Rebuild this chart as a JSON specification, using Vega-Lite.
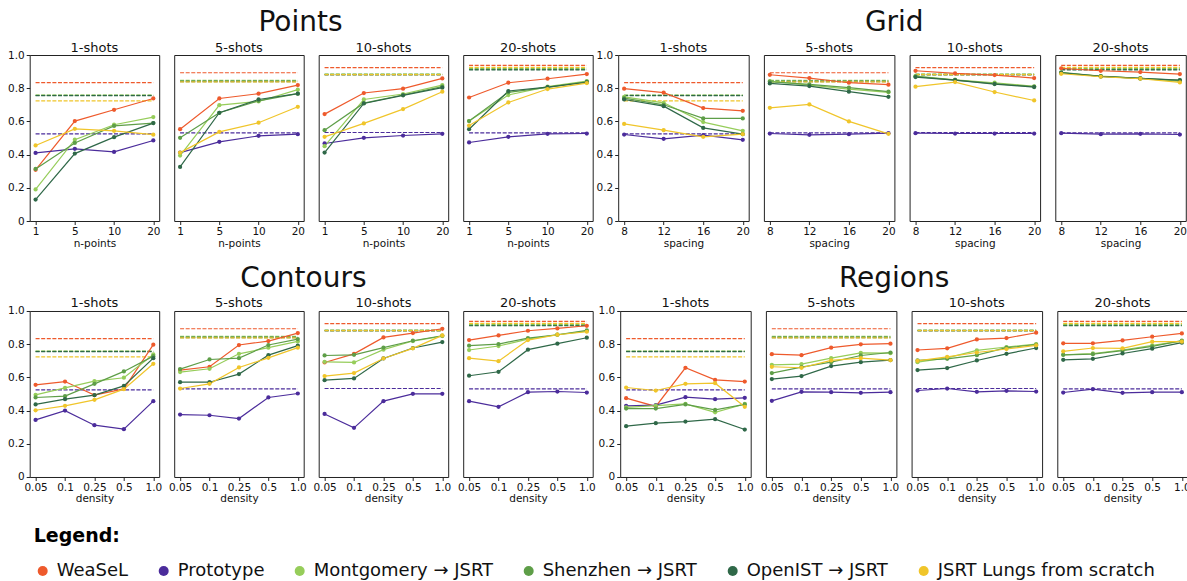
{
  "$schema": "https://vega.github.io/schema/vega-lite/v6.json",
  "background": "white",
  "padding": {"left": 6.7, "top": 9, "right": 0, "bottom": 0},
  "config": {
    "font": "DejaVu Sans",
    "view": {"stroke": "#222", "strokeWidth": 1},
    "axis": {"grid": false, "domain": false, "tickColor": "#222", "tickSize": 3.5, "labelFontSize": 10.5, "labelColor": "#111", "titleFontSize": 10.5, "titleFontWeight": "normal", "titleColor": "#111", "labelPadding": 2, "titlePadding": 1, "labelOverlap": false},
    "axisX": {"labelAlign": "center", "labelAngle": 0},
    "axisY": {"labelOverlap": false, "labelBound": false, "labelFlush": false, "labelSeparation": 0},
    "header": {"labelFontSize": 13, "labelColor": "#111", "labelPadding": 0.5},
    "title": {"fontSize": 28, "fontWeight": "normal", "color": "#111", "offset": 4.5, "anchor": "middle"}
  },
  "datasets": {
    "runs": [
      {"group":"all","shots":"1-shots","series":"WeaSeL","value":0.833},
      {"group":"all","shots":"1-shots","series":"Prototype","value":0.525},
      {"group":"all","shots":"1-shots","series":"Montgomery → JSRT","value":0.758},
      {"group":"all","shots":"1-shots","series":"Shenzhen → JSRT","value":0.757},
      {"group":"all","shots":"1-shots","series":"OpenIST → JSRT","value":0.755},
      {"group":"all","shots":"1-shots","series":"JSRT Lungs from scratch","value":0.724},
      {"group":"all","shots":"5-shots","series":"WeaSeL","value":0.893},
      {"group":"all","shots":"5-shots","series":"Prototype","value":0.531},
      {"group":"all","shots":"5-shots","series":"Montgomery → JSRT","value":0.848},
      {"group":"all","shots":"5-shots","series":"Shenzhen → JSRT","value":0.844},
      {"group":"all","shots":"5-shots","series":"OpenIST → JSRT","value":0.839},
      {"group":"all","shots":"5-shots","series":"JSRT Lungs from scratch","value":0.838},
      {"group":"all","shots":"10-shots","series":"WeaSeL","value":0.924},
      {"group":"all","shots":"10-shots","series":"Prototype","value":0.533},
      {"group":"all","shots":"10-shots","series":"Montgomery → JSRT","value":0.885},
      {"group":"all","shots":"10-shots","series":"Shenzhen → JSRT","value":0.883},
      {"group":"all","shots":"10-shots","series":"OpenIST → JSRT","value":0.880},
      {"group":"all","shots":"10-shots","series":"JSRT Lungs from scratch","value":0.882},
      {"group":"all","shots":"20-shots","series":"WeaSeL","value":0.938},
      {"group":"all","shots":"20-shots","series":"Prototype","value":0.531},
      {"group":"all","shots":"20-shots","series":"Montgomery → JSRT","value":0.920},
      {"group":"all","shots":"20-shots","series":"Shenzhen → JSRT","value":0.913},
      {"group":"all","shots":"20-shots","series":"OpenIST → JSRT","value":0.911},
      {"group":"all","shots":"20-shots","series":"JSRT Lungs from scratch","value":0.926},

      {"group":"Points","shots":"1-shots","x":"1","series":"WeaSeL","value":0.308},
      {"group":"Points","shots":"1-shots","x":"5","series":"WeaSeL","value":0.602},
      {"group":"Points","shots":"1-shots","x":"10","series":"WeaSeL","value":0.670},
      {"group":"Points","shots":"1-shots","x":"20","series":"WeaSeL","value":0.738},
      {"group":"Points","shots":"1-shots","x":"1","series":"Prototype","value":0.410},
      {"group":"Points","shots":"1-shots","x":"5","series":"Prototype","value":0.435},
      {"group":"Points","shots":"1-shots","x":"10","series":"Prototype","value":0.416},
      {"group":"Points","shots":"1-shots","x":"20","series":"Prototype","value":0.485},
      {"group":"Points","shots":"1-shots","x":"1","series":"Montgomery → JSRT","value":0.190},
      {"group":"Points","shots":"1-shots","x":"5","series":"Montgomery → JSRT","value":0.490},
      {"group":"Points","shots":"1-shots","x":"10","series":"Montgomery → JSRT","value":0.580},
      {"group":"Points","shots":"1-shots","x":"20","series":"Montgomery → JSRT","value":0.626},
      {"group":"Points","shots":"1-shots","x":"1","series":"Shenzhen → JSRT","value":0.314},
      {"group":"Points","shots":"1-shots","x":"5","series":"Shenzhen → JSRT","value":0.470},
      {"group":"Points","shots":"1-shots","x":"10","series":"Shenzhen → JSRT","value":0.573},
      {"group":"Points","shots":"1-shots","x":"20","series":"Shenzhen → JSRT","value":0.590},
      {"group":"Points","shots":"1-shots","x":"1","series":"OpenIST → JSRT","value":0.129},
      {"group":"Points","shots":"1-shots","x":"5","series":"OpenIST → JSRT","value":0.406},
      {"group":"Points","shots":"1-shots","x":"10","series":"OpenIST → JSRT","value":0.505},
      {"group":"Points","shots":"1-shots","x":"20","series":"OpenIST → JSRT","value":0.590},
      {"group":"Points","shots":"1-shots","x":"1","series":"JSRT Lungs from scratch","value":0.455},
      {"group":"Points","shots":"1-shots","x":"5","series":"JSRT Lungs from scratch","value":0.555},
      {"group":"Points","shots":"1-shots","x":"10","series":"JSRT Lungs from scratch","value":0.543},
      {"group":"Points","shots":"1-shots","x":"20","series":"JSRT Lungs from scratch","value":0.520},

      {"group":"Points","shots":"5-shots","x":"1","series":"WeaSeL","value":0.553},
      {"group":"Points","shots":"5-shots","x":"5","series":"WeaSeL","value":0.738},
      {"group":"Points","shots":"5-shots","x":"10","series":"WeaSeL","value":0.767},
      {"group":"Points","shots":"5-shots","x":"20","series":"WeaSeL","value":0.819},
      {"group":"Points","shots":"5-shots","x":"1","series":"Prototype","value":0.412},
      {"group":"Points","shots":"5-shots","x":"5","series":"Prototype","value":0.477},
      {"group":"Points","shots":"5-shots","x":"10","series":"Prototype","value":0.513},
      {"group":"Points","shots":"5-shots","x":"20","series":"Prototype","value":0.523},
      {"group":"Points","shots":"5-shots","x":"1","series":"Montgomery → JSRT","value":0.394},
      {"group":"Points","shots":"5-shots","x":"5","series":"Montgomery → JSRT","value":0.698},
      {"group":"Points","shots":"5-shots","x":"10","series":"Montgomery → JSRT","value":0.720},
      {"group":"Points","shots":"5-shots","x":"20","series":"Montgomery → JSRT","value":0.791},
      {"group":"Points","shots":"5-shots","x":"1","series":"Shenzhen → JSRT","value":0.501},
      {"group":"Points","shots":"5-shots","x":"5","series":"Shenzhen → JSRT","value":0.652},
      {"group":"Points","shots":"5-shots","x":"10","series":"Shenzhen → JSRT","value":0.724},
      {"group":"Points","shots":"5-shots","x":"20","series":"Shenzhen → JSRT","value":0.767},
      {"group":"Points","shots":"5-shots","x":"1","series":"OpenIST → JSRT","value":0.326},
      {"group":"Points","shots":"5-shots","x":"5","series":"OpenIST → JSRT","value":0.652},
      {"group":"Points","shots":"5-shots","x":"10","series":"OpenIST → JSRT","value":0.732},
      {"group":"Points","shots":"5-shots","x":"20","series":"OpenIST → JSRT","value":0.767},
      {"group":"Points","shots":"5-shots","x":"1","series":"JSRT Lungs from scratch","value":0.412},
      {"group":"Points","shots":"5-shots","x":"5","series":"JSRT Lungs from scratch","value":0.537},
      {"group":"Points","shots":"5-shots","x":"10","series":"JSRT Lungs from scratch","value":0.592},
      {"group":"Points","shots":"5-shots","x":"20","series":"JSRT Lungs from scratch","value":0.688},

      {"group":"Points","shots":"10-shots","x":"1","series":"WeaSeL","value":0.644},
      {"group":"Points","shots":"10-shots","x":"5","series":"WeaSeL","value":0.771},
      {"group":"Points","shots":"10-shots","x":"10","series":"WeaSeL","value":0.797},
      {"group":"Points","shots":"10-shots","x":"20","series":"WeaSeL","value":0.859},
      {"group":"Points","shots":"10-shots","x":"1","series":"Prototype","value":0.467},
      {"group":"Points","shots":"10-shots","x":"5","series":"Prototype","value":0.501},
      {"group":"Points","shots":"10-shots","x":"10","series":"Prototype","value":0.515},
      {"group":"Points","shots":"10-shots","x":"20","series":"Prototype","value":0.525},
      {"group":"Points","shots":"10-shots","x":"1","series":"Montgomery → JSRT","value":0.451},
      {"group":"Points","shots":"10-shots","x":"5","series":"Montgomery → JSRT","value":0.732},
      {"group":"Points","shots":"10-shots","x":"10","series":"Montgomery → JSRT","value":0.765},
      {"group":"Points","shots":"10-shots","x":"20","series":"Montgomery → JSRT","value":0.819},
      {"group":"Points","shots":"10-shots","x":"1","series":"Shenzhen → JSRT","value":0.547},
      {"group":"Points","shots":"10-shots","x":"5","series":"Shenzhen → JSRT","value":0.710},
      {"group":"Points","shots":"10-shots","x":"10","series":"Shenzhen → JSRT","value":0.759},
      {"group":"Points","shots":"10-shots","x":"20","series":"Shenzhen → JSRT","value":0.809},
      {"group":"Points","shots":"10-shots","x":"1","series":"OpenIST → JSRT","value":0.412},
      {"group":"Points","shots":"10-shots","x":"5","series":"OpenIST → JSRT","value":0.708},
      {"group":"Points","shots":"10-shots","x":"10","series":"OpenIST → JSRT","value":0.757},
      {"group":"Points","shots":"10-shots","x":"20","series":"OpenIST → JSRT","value":0.803},
      {"group":"Points","shots":"10-shots","x":"1","series":"JSRT Lungs from scratch","value":0.507},
      {"group":"Points","shots":"10-shots","x":"5","series":"JSRT Lungs from scratch","value":0.588},
      {"group":"Points","shots":"10-shots","x":"10","series":"JSRT Lungs from scratch","value":0.674},
      {"group":"Points","shots":"10-shots","x":"20","series":"JSRT Lungs from scratch","value":0.779},

      {"group":"Points","shots":"20-shots","x":"1","series":"WeaSeL","value":0.744},
      {"group":"Points","shots":"20-shots","x":"5","series":"WeaSeL","value":0.833},
      {"group":"Points","shots":"20-shots","x":"10","series":"WeaSeL","value":0.857},
      {"group":"Points","shots":"20-shots","x":"20","series":"WeaSeL","value":0.885},
      {"group":"Points","shots":"20-shots","x":"1","series":"Prototype","value":0.473},
      {"group":"Points","shots":"20-shots","x":"5","series":"Prototype","value":0.507},
      {"group":"Points","shots":"20-shots","x":"10","series":"Prototype","value":0.525},
      {"group":"Points","shots":"20-shots","x":"20","series":"Prototype","value":0.527},
      {"group":"Points","shots":"20-shots","x":"1","series":"Montgomery → JSRT","value":0.602},
      {"group":"Points","shots":"20-shots","x":"5","series":"Montgomery → JSRT","value":0.759},
      {"group":"Points","shots":"20-shots","x":"10","series":"Montgomery → JSRT","value":0.809},
      {"group":"Points","shots":"20-shots","x":"20","series":"Montgomery → JSRT","value":0.843},
      {"group":"Points","shots":"20-shots","x":"1","series":"Shenzhen → JSRT","value":0.602},
      {"group":"Points","shots":"20-shots","x":"5","series":"Shenzhen → JSRT","value":0.775},
      {"group":"Points","shots":"20-shots","x":"10","series":"Shenzhen → JSRT","value":0.805},
      {"group":"Points","shots":"20-shots","x":"20","series":"Shenzhen → JSRT","value":0.839},
      {"group":"Points","shots":"20-shots","x":"1","series":"OpenIST → JSRT","value":0.553},
      {"group":"Points","shots":"20-shots","x":"5","series":"OpenIST → JSRT","value":0.783},
      {"group":"Points","shots":"20-shots","x":"10","series":"OpenIST → JSRT","value":0.807},
      {"group":"Points","shots":"20-shots","x":"20","series":"OpenIST → JSRT","value":0.835},
      {"group":"Points","shots":"20-shots","x":"1","series":"JSRT Lungs from scratch","value":0.575},
      {"group":"Points","shots":"20-shots","x":"5","series":"JSRT Lungs from scratch","value":0.714},
      {"group":"Points","shots":"20-shots","x":"10","series":"JSRT Lungs from scratch","value":0.795},
      {"group":"Points","shots":"20-shots","x":"20","series":"JSRT Lungs from scratch","value":0.831},

      {"group":"Grid","shots":"1-shots","x":"8","series":"WeaSeL","value":0.797},
      {"group":"Grid","shots":"1-shots","x":"12","series":"WeaSeL","value":0.773},
      {"group":"Grid","shots":"1-shots","x":"16","series":"WeaSeL","value":0.680},
      {"group":"Grid","shots":"1-shots","x":"20","series":"WeaSeL","value":0.664},
      {"group":"Grid","shots":"1-shots","x":"8","series":"Prototype","value":0.521},
      {"group":"Grid","shots":"1-shots","x":"12","series":"Prototype","value":0.495},
      {"group":"Grid","shots":"1-shots","x":"16","series":"Prototype","value":0.517},
      {"group":"Grid","shots":"1-shots","x":"20","series":"Prototype","value":0.489},
      {"group":"Grid","shots":"1-shots","x":"8","series":"Montgomery → JSRT","value":0.748},
      {"group":"Grid","shots":"1-shots","x":"12","series":"Montgomery → JSRT","value":0.712},
      {"group":"Grid","shots":"1-shots","x":"16","series":"Montgomery → JSRT","value":0.596},
      {"group":"Grid","shots":"1-shots","x":"20","series":"Montgomery → JSRT","value":0.543},
      {"group":"Grid","shots":"1-shots","x":"8","series":"Shenzhen → JSRT","value":0.740},
      {"group":"Grid","shots":"1-shots","x":"12","series":"Shenzhen → JSRT","value":0.700},
      {"group":"Grid","shots":"1-shots","x":"16","series":"Shenzhen → JSRT","value":0.618},
      {"group":"Grid","shots":"1-shots","x":"20","series":"Shenzhen → JSRT","value":0.618},
      {"group":"Grid","shots":"1-shots","x":"8","series":"OpenIST → JSRT","value":0.732},
      {"group":"Grid","shots":"1-shots","x":"12","series":"OpenIST → JSRT","value":0.692},
      {"group":"Grid","shots":"1-shots","x":"16","series":"OpenIST → JSRT","value":0.561},
      {"group":"Grid","shots":"1-shots","x":"20","series":"OpenIST → JSRT","value":0.523},
      {"group":"Grid","shots":"1-shots","x":"8","series":"JSRT Lungs from scratch","value":0.585},
      {"group":"Grid","shots":"1-shots","x":"12","series":"JSRT Lungs from scratch","value":0.547},
      {"group":"Grid","shots":"1-shots","x":"16","series":"JSRT Lungs from scratch","value":0.507},
      {"group":"Grid","shots":"1-shots","x":"20","series":"JSRT Lungs from scratch","value":0.523},

      {"group":"Grid","shots":"5-shots","x":"8","series":"WeaSeL","value":0.881},
      {"group":"Grid","shots":"5-shots","x":"12","series":"WeaSeL","value":0.861},
      {"group":"Grid","shots":"5-shots","x":"16","series":"WeaSeL","value":0.833},
      {"group":"Grid","shots":"5-shots","x":"20","series":"WeaSeL","value":0.821},
      {"group":"Grid","shots":"5-shots","x":"8","series":"Prototype","value":0.527},
      {"group":"Grid","shots":"5-shots","x":"12","series":"Prototype","value":0.519},
      {"group":"Grid","shots":"5-shots","x":"16","series":"Prototype","value":0.523},
      {"group":"Grid","shots":"5-shots","x":"20","series":"Prototype","value":0.529},
      {"group":"Grid","shots":"5-shots","x":"8","series":"Montgomery → JSRT","value":0.843},
      {"group":"Grid","shots":"5-shots","x":"12","series":"Montgomery → JSRT","value":0.819},
      {"group":"Grid","shots":"5-shots","x":"16","series":"Montgomery → JSRT","value":0.795},
      {"group":"Grid","shots":"5-shots","x":"20","series":"Montgomery → JSRT","value":0.775},
      {"group":"Grid","shots":"5-shots","x":"8","series":"Shenzhen → JSRT","value":0.839},
      {"group":"Grid","shots":"5-shots","x":"12","series":"Shenzhen → JSRT","value":0.823},
      {"group":"Grid","shots":"5-shots","x":"16","series":"Shenzhen → JSRT","value":0.803},
      {"group":"Grid","shots":"5-shots","x":"20","series":"Shenzhen → JSRT","value":0.779},
      {"group":"Grid","shots":"5-shots","x":"8","series":"OpenIST → JSRT","value":0.829},
      {"group":"Grid","shots":"5-shots","x":"12","series":"OpenIST → JSRT","value":0.813},
      {"group":"Grid","shots":"5-shots","x":"16","series":"OpenIST → JSRT","value":0.779},
      {"group":"Grid","shots":"5-shots","x":"20","series":"OpenIST → JSRT","value":0.748},
      {"group":"Grid","shots":"5-shots","x":"8","series":"JSRT Lungs from scratch","value":0.682},
      {"group":"Grid","shots":"5-shots","x":"12","series":"JSRT Lungs from scratch","value":0.702},
      {"group":"Grid","shots":"5-shots","x":"16","series":"JSRT Lungs from scratch","value":0.600},
      {"group":"Grid","shots":"5-shots","x":"20","series":"JSRT Lungs from scratch","value":0.525},

      {"group":"Grid","shots":"10-shots","x":"8","series":"WeaSeL","value":0.905},
      {"group":"Grid","shots":"10-shots","x":"12","series":"WeaSeL","value":0.889},
      {"group":"Grid","shots":"10-shots","x":"16","series":"WeaSeL","value":0.879},
      {"group":"Grid","shots":"10-shots","x":"20","series":"WeaSeL","value":0.861},
      {"group":"Grid","shots":"10-shots","x":"8","series":"Prototype","value":0.529},
      {"group":"Grid","shots":"10-shots","x":"12","series":"Prototype","value":0.527},
      {"group":"Grid","shots":"10-shots","x":"16","series":"Prototype","value":0.527},
      {"group":"Grid","shots":"10-shots","x":"20","series":"Prototype","value":0.527},
      {"group":"Grid","shots":"10-shots","x":"8","series":"Montgomery → JSRT","value":0.873},
      {"group":"Grid","shots":"10-shots","x":"12","series":"Montgomery → JSRT","value":0.851},
      {"group":"Grid","shots":"10-shots","x":"16","series":"Montgomery → JSRT","value":0.833},
      {"group":"Grid","shots":"10-shots","x":"20","series":"Montgomery → JSRT","value":0.811},
      {"group":"Grid","shots":"10-shots","x":"8","series":"Shenzhen → JSRT","value":0.871},
      {"group":"Grid","shots":"10-shots","x":"12","series":"Shenzhen → JSRT","value":0.849},
      {"group":"Grid","shots":"10-shots","x":"16","series":"Shenzhen → JSRT","value":0.827},
      {"group":"Grid","shots":"10-shots","x":"20","series":"Shenzhen → JSRT","value":0.809},
      {"group":"Grid","shots":"10-shots","x":"8","series":"OpenIST → JSRT","value":0.867},
      {"group":"Grid","shots":"10-shots","x":"12","series":"OpenIST → JSRT","value":0.849},
      {"group":"Grid","shots":"10-shots","x":"16","series":"OpenIST → JSRT","value":0.825},
      {"group":"Grid","shots":"10-shots","x":"20","series":"OpenIST → JSRT","value":0.807},
      {"group":"Grid","shots":"10-shots","x":"8","series":"JSRT Lungs from scratch","value":0.809},
      {"group":"Grid","shots":"10-shots","x":"12","series":"JSRT Lungs from scratch","value":0.837},
      {"group":"Grid","shots":"10-shots","x":"16","series":"JSRT Lungs from scratch","value":0.777},
      {"group":"Grid","shots":"10-shots","x":"20","series":"JSRT Lungs from scratch","value":0.726},

      {"group":"Grid","shots":"20-shots","x":"8","series":"WeaSeL","value":0.920},
      {"group":"Grid","shots":"20-shots","x":"12","series":"WeaSeL","value":0.905},
      {"group":"Grid","shots":"20-shots","x":"16","series":"WeaSeL","value":0.897},
      {"group":"Grid","shots":"20-shots","x":"20","series":"WeaSeL","value":0.885},
      {"group":"Grid","shots":"20-shots","x":"8","series":"Prototype","value":0.529},
      {"group":"Grid","shots":"20-shots","x":"12","series":"Prototype","value":0.523},
      {"group":"Grid","shots":"20-shots","x":"16","series":"Prototype","value":0.525},
      {"group":"Grid","shots":"20-shots","x":"20","series":"Prototype","value":0.521},
      {"group":"Grid","shots":"20-shots","x":"8","series":"Montgomery → JSRT","value":0.893},
      {"group":"Grid","shots":"20-shots","x":"12","series":"Montgomery → JSRT","value":0.873},
      {"group":"Grid","shots":"20-shots","x":"16","series":"Montgomery → JSRT","value":0.859},
      {"group":"Grid","shots":"20-shots","x":"20","series":"Montgomery → JSRT","value":0.841},
      {"group":"Grid","shots":"20-shots","x":"8","series":"Shenzhen → JSRT","value":0.895},
      {"group":"Grid","shots":"20-shots","x":"12","series":"Shenzhen → JSRT","value":0.871},
      {"group":"Grid","shots":"20-shots","x":"16","series":"Shenzhen → JSRT","value":0.859},
      {"group":"Grid","shots":"20-shots","x":"20","series":"Shenzhen → JSRT","value":0.847},
      {"group":"Grid","shots":"20-shots","x":"8","series":"OpenIST → JSRT","value":0.893},
      {"group":"Grid","shots":"20-shots","x":"12","series":"OpenIST → JSRT","value":0.871},
      {"group":"Grid","shots":"20-shots","x":"16","series":"OpenIST → JSRT","value":0.859},
      {"group":"Grid","shots":"20-shots","x":"20","series":"OpenIST → JSRT","value":0.849},
      {"group":"Grid","shots":"20-shots","x":"8","series":"JSRT Lungs from scratch","value":0.887},
      {"group":"Grid","shots":"20-shots","x":"12","series":"JSRT Lungs from scratch","value":0.869},
      {"group":"Grid","shots":"20-shots","x":"16","series":"JSRT Lungs from scratch","value":0.857},
      {"group":"Grid","shots":"20-shots","x":"20","series":"JSRT Lungs from scratch","value":0.835},

      {"group":"Contours","shots":"1-shots","x":"0.05","series":"WeaSeL","value":0.555},
      {"group":"Contours","shots":"1-shots","x":"0.1","series":"WeaSeL","value":0.575},
      {"group":"Contours","shots":"1-shots","x":"0.25","series":"WeaSeL","value":0.493},
      {"group":"Contours","shots":"1-shots","x":"0.5","series":"WeaSeL","value":0.531},
      {"group":"Contours","shots":"1-shots","x":"1.0","series":"WeaSeL","value":0.797},
      {"group":"Contours","shots":"1-shots","x":"0.05","series":"Prototype","value":0.344},
      {"group":"Contours","shots":"1-shots","x":"0.1","series":"Prototype","value":0.400},
      {"group":"Contours","shots":"1-shots","x":"0.25","series":"Prototype","value":0.312},
      {"group":"Contours","shots":"1-shots","x":"0.5","series":"Prototype","value":0.288},
      {"group":"Contours","shots":"1-shots","x":"1.0","series":"Prototype","value":0.457},
      {"group":"Contours","shots":"1-shots","x":"0.05","series":"Montgomery → JSRT","value":0.495},
      {"group":"Contours","shots":"1-shots","x":"0.1","series":"Montgomery → JSRT","value":0.537},
      {"group":"Contours","shots":"1-shots","x":"0.25","series":"Montgomery → JSRT","value":0.577},
      {"group":"Contours","shots":"1-shots","x":"0.5","series":"Montgomery → JSRT","value":0.598},
      {"group":"Contours","shots":"1-shots","x":"1.0","series":"Montgomery → JSRT","value":0.738},
      {"group":"Contours","shots":"1-shots","x":"0.05","series":"Shenzhen → JSRT","value":0.479},
      {"group":"Contours","shots":"1-shots","x":"0.1","series":"Shenzhen → JSRT","value":0.487},
      {"group":"Contours","shots":"1-shots","x":"0.25","series":"Shenzhen → JSRT","value":0.561},
      {"group":"Contours","shots":"1-shots","x":"0.5","series":"Shenzhen → JSRT","value":0.636},
      {"group":"Contours","shots":"1-shots","x":"1.0","series":"Shenzhen → JSRT","value":0.728},
      {"group":"Contours","shots":"1-shots","x":"0.05","series":"OpenIST → JSRT","value":0.437},
      {"group":"Contours","shots":"1-shots","x":"0.1","series":"OpenIST → JSRT","value":0.469},
      {"group":"Contours","shots":"1-shots","x":"0.25","series":"OpenIST → JSRT","value":0.493},
      {"group":"Contours","shots":"1-shots","x":"0.5","series":"OpenIST → JSRT","value":0.549},
      {"group":"Contours","shots":"1-shots","x":"1.0","series":"OpenIST → JSRT","value":0.716},
      {"group":"Contours","shots":"1-shots","x":"0.05","series":"JSRT Lungs from scratch","value":0.402},
      {"group":"Contours","shots":"1-shots","x":"0.1","series":"JSRT Lungs from scratch","value":0.429},
      {"group":"Contours","shots":"1-shots","x":"0.25","series":"JSRT Lungs from scratch","value":0.465},
      {"group":"Contours","shots":"1-shots","x":"0.5","series":"JSRT Lungs from scratch","value":0.529},
      {"group":"Contours","shots":"1-shots","x":"1.0","series":"JSRT Lungs from scratch","value":0.682},

      {"group":"Contours","shots":"5-shots","x":"0.05","series":"WeaSeL","value":0.644},
      {"group":"Contours","shots":"5-shots","x":"0.1","series":"WeaSeL","value":0.664},
      {"group":"Contours","shots":"5-shots","x":"0.25","series":"WeaSeL","value":0.795},
      {"group":"Contours","shots":"5-shots","x":"0.5","series":"WeaSeL","value":0.819},
      {"group":"Contours","shots":"5-shots","x":"1.0","series":"WeaSeL","value":0.867},
      {"group":"Contours","shots":"5-shots","x":"0.05","series":"Prototype","value":0.376},
      {"group":"Contours","shots":"5-shots","x":"0.1","series":"Prototype","value":0.372},
      {"group":"Contours","shots":"5-shots","x":"0.25","series":"Prototype","value":0.352},
      {"group":"Contours","shots":"5-shots","x":"0.5","series":"Prototype","value":0.479},
      {"group":"Contours","shots":"5-shots","x":"1.0","series":"Prototype","value":0.503},
      {"group":"Contours","shots":"5-shots","x":"0.05","series":"Montgomery → JSRT","value":0.632},
      {"group":"Contours","shots":"5-shots","x":"0.1","series":"Montgomery → JSRT","value":0.652},
      {"group":"Contours","shots":"5-shots","x":"0.25","series":"Montgomery → JSRT","value":0.742},
      {"group":"Contours","shots":"5-shots","x":"0.5","series":"Montgomery → JSRT","value":0.779},
      {"group":"Contours","shots":"5-shots","x":"1.0","series":"Montgomery → JSRT","value":0.817},
      {"group":"Contours","shots":"5-shots","x":"0.05","series":"Shenzhen → JSRT","value":0.650},
      {"group":"Contours","shots":"5-shots","x":"0.1","series":"Shenzhen → JSRT","value":0.708},
      {"group":"Contours","shots":"5-shots","x":"0.25","series":"Shenzhen → JSRT","value":0.716},
      {"group":"Contours","shots":"5-shots","x":"0.5","series":"Shenzhen → JSRT","value":0.795},
      {"group":"Contours","shots":"5-shots","x":"1.0","series":"Shenzhen → JSRT","value":0.831},
      {"group":"Contours","shots":"5-shots","x":"0.05","series":"OpenIST → JSRT","value":0.571},
      {"group":"Contours","shots":"5-shots","x":"0.1","series":"OpenIST → JSRT","value":0.571},
      {"group":"Contours","shots":"5-shots","x":"0.25","series":"OpenIST → JSRT","value":0.620},
      {"group":"Contours","shots":"5-shots","x":"0.5","series":"OpenIST → JSRT","value":0.734},
      {"group":"Contours","shots":"5-shots","x":"1.0","series":"OpenIST → JSRT","value":0.791},
      {"group":"Contours","shots":"5-shots","x":"0.05","series":"JSRT Lungs from scratch","value":0.533},
      {"group":"Contours","shots":"5-shots","x":"0.1","series":"JSRT Lungs from scratch","value":0.561},
      {"group":"Contours","shots":"5-shots","x":"0.25","series":"JSRT Lungs from scratch","value":0.660},
      {"group":"Contours","shots":"5-shots","x":"0.5","series":"JSRT Lungs from scratch","value":0.718},
      {"group":"Contours","shots":"5-shots","x":"1.0","series":"JSRT Lungs from scratch","value":0.779},

      {"group":"Contours","shots":"10-shots","x":"0.05","series":"WeaSeL","value":0.690},
      {"group":"Contours","shots":"10-shots","x":"0.1","series":"WeaSeL","value":0.742},
      {"group":"Contours","shots":"10-shots","x":"0.25","series":"WeaSeL","value":0.841},
      {"group":"Contours","shots":"10-shots","x":"0.5","series":"WeaSeL","value":0.867},
      {"group":"Contours","shots":"10-shots","x":"1.0","series":"WeaSeL","value":0.893},
      {"group":"Contours","shots":"10-shots","x":"0.05","series":"Prototype","value":0.380},
      {"group":"Contours","shots":"10-shots","x":"0.1","series":"Prototype","value":0.296},
      {"group":"Contours","shots":"10-shots","x":"0.25","series":"Prototype","value":0.457},
      {"group":"Contours","shots":"10-shots","x":"0.5","series":"Prototype","value":0.501},
      {"group":"Contours","shots":"10-shots","x":"1.0","series":"Prototype","value":0.501},
      {"group":"Contours","shots":"10-shots","x":"0.05","series":"Montgomery → JSRT","value":0.694},
      {"group":"Contours","shots":"10-shots","x":"0.1","series":"Montgomery → JSRT","value":0.690},
      {"group":"Contours","shots":"10-shots","x":"0.25","series":"Montgomery → JSRT","value":0.767},
      {"group":"Contours","shots":"10-shots","x":"0.5","series":"Montgomery → JSRT","value":0.819},
      {"group":"Contours","shots":"10-shots","x":"1.0","series":"Montgomery → JSRT","value":0.849},
      {"group":"Contours","shots":"10-shots","x":"0.05","series":"Shenzhen → JSRT","value":0.732},
      {"group":"Contours","shots":"10-shots","x":"0.1","series":"Shenzhen → JSRT","value":0.736},
      {"group":"Contours","shots":"10-shots","x":"0.25","series":"Shenzhen → JSRT","value":0.779},
      {"group":"Contours","shots":"10-shots","x":"0.5","series":"Shenzhen → JSRT","value":0.821},
      {"group":"Contours","shots":"10-shots","x":"1.0","series":"Shenzhen → JSRT","value":0.851},
      {"group":"Contours","shots":"10-shots","x":"0.05","series":"OpenIST → JSRT","value":0.583},
      {"group":"Contours","shots":"10-shots","x":"0.1","series":"OpenIST → JSRT","value":0.594},
      {"group":"Contours","shots":"10-shots","x":"0.25","series":"OpenIST → JSRT","value":0.714},
      {"group":"Contours","shots":"10-shots","x":"0.5","series":"OpenIST → JSRT","value":0.777},
      {"group":"Contours","shots":"10-shots","x":"1.0","series":"OpenIST → JSRT","value":0.813},
      {"group":"Contours","shots":"10-shots","x":"0.05","series":"JSRT Lungs from scratch","value":0.608},
      {"group":"Contours","shots":"10-shots","x":"0.1","series":"JSRT Lungs from scratch","value":0.626},
      {"group":"Contours","shots":"10-shots","x":"0.25","series":"JSRT Lungs from scratch","value":0.714},
      {"group":"Contours","shots":"10-shots","x":"0.5","series":"JSRT Lungs from scratch","value":0.775},
      {"group":"Contours","shots":"10-shots","x":"1.0","series":"JSRT Lungs from scratch","value":0.853},

      {"group":"Contours","shots":"20-shots","x":"0.05","series":"WeaSeL","value":0.825},
      {"group":"Contours","shots":"20-shots","x":"0.1","series":"WeaSeL","value":0.853},
      {"group":"Contours","shots":"20-shots","x":"0.25","series":"WeaSeL","value":0.881},
      {"group":"Contours","shots":"20-shots","x":"0.5","series":"WeaSeL","value":0.895},
      {"group":"Contours","shots":"20-shots","x":"1.0","series":"WeaSeL","value":0.911},
      {"group":"Contours","shots":"20-shots","x":"0.05","series":"Prototype","value":0.457},
      {"group":"Contours","shots":"20-shots","x":"0.1","series":"Prototype","value":0.423},
      {"group":"Contours","shots":"20-shots","x":"0.25","series":"Prototype","value":0.511},
      {"group":"Contours","shots":"20-shots","x":"0.5","series":"Prototype","value":0.515},
      {"group":"Contours","shots":"20-shots","x":"1.0","series":"Prototype","value":0.509},
      {"group":"Contours","shots":"20-shots","x":"0.05","series":"Montgomery → JSRT","value":0.765},
      {"group":"Contours","shots":"20-shots","x":"0.1","series":"Montgomery → JSRT","value":0.789},
      {"group":"Contours","shots":"20-shots","x":"0.25","series":"Montgomery → JSRT","value":0.831},
      {"group":"Contours","shots":"20-shots","x":"0.5","series":"Montgomery → JSRT","value":0.857},
      {"group":"Contours","shots":"20-shots","x":"1.0","series":"Montgomery → JSRT","value":0.879},
      {"group":"Contours","shots":"20-shots","x":"0.05","series":"Shenzhen → JSRT","value":0.791},
      {"group":"Contours","shots":"20-shots","x":"0.1","series":"Shenzhen → JSRT","value":0.801},
      {"group":"Contours","shots":"20-shots","x":"0.25","series":"Shenzhen → JSRT","value":0.837},
      {"group":"Contours","shots":"20-shots","x":"0.5","series":"Shenzhen → JSRT","value":0.857},
      {"group":"Contours","shots":"20-shots","x":"1.0","series":"Shenzhen → JSRT","value":0.883},
      {"group":"Contours","shots":"20-shots","x":"0.05","series":"OpenIST → JSRT","value":0.610},
      {"group":"Contours","shots":"20-shots","x":"0.1","series":"OpenIST → JSRT","value":0.634},
      {"group":"Contours","shots":"20-shots","x":"0.25","series":"OpenIST → JSRT","value":0.767},
      {"group":"Contours","shots":"20-shots","x":"0.5","series":"OpenIST → JSRT","value":0.803},
      {"group":"Contours","shots":"20-shots","x":"1.0","series":"OpenIST → JSRT","value":0.839},
      {"group":"Contours","shots":"20-shots","x":"0.05","series":"JSRT Lungs from scratch","value":0.716},
      {"group":"Contours","shots":"20-shots","x":"0.1","series":"JSRT Lungs from scratch","value":0.698},
      {"group":"Contours","shots":"20-shots","x":"0.25","series":"JSRT Lungs from scratch","value":0.825},
      {"group":"Contours","shots":"20-shots","x":"0.5","series":"JSRT Lungs from scratch","value":0.857},
      {"group":"Contours","shots":"20-shots","x":"1.0","series":"JSRT Lungs from scratch","value":0.875},

      {"group":"Regions","shots":"1-shots","x":"0.05","series":"WeaSeL","value":0.475},
      {"group":"Regions","shots":"1-shots","x":"0.1","series":"WeaSeL","value":0.425},
      {"group":"Regions","shots":"1-shots","x":"0.25","series":"WeaSeL","value":0.658},
      {"group":"Regions","shots":"1-shots","x":"0.5","series":"WeaSeL","value":0.585},
      {"group":"Regions","shots":"1-shots","x":"1.0","series":"WeaSeL","value":0.575},
      {"group":"Regions","shots":"1-shots","x":"0.05","series":"Prototype","value":0.429},
      {"group":"Regions","shots":"1-shots","x":"0.1","series":"Prototype","value":0.433},
      {"group":"Regions","shots":"1-shots","x":"0.25","series":"Prototype","value":0.481},
      {"group":"Regions","shots":"1-shots","x":"0.5","series":"Prototype","value":0.469},
      {"group":"Regions","shots":"1-shots","x":"1.0","series":"Prototype","value":0.477},
      {"group":"Regions","shots":"1-shots","x":"0.05","series":"Montgomery → JSRT","value":0.420},
      {"group":"Regions","shots":"1-shots","x":"0.1","series":"Montgomery → JSRT","value":0.430},
      {"group":"Regions","shots":"1-shots","x":"0.25","series":"Montgomery → JSRT","value":0.440},
      {"group":"Regions","shots":"1-shots","x":"0.5","series":"Montgomery → JSRT","value":0.390},
      {"group":"Regions","shots":"1-shots","x":"1.0","series":"Montgomery → JSRT","value":0.440},
      {"group":"Regions","shots":"1-shots","x":"0.05","series":"Shenzhen → JSRT","value":0.412},
      {"group":"Regions","shots":"1-shots","x":"0.1","series":"Shenzhen → JSRT","value":0.412},
      {"group":"Regions","shots":"1-shots","x":"0.25","series":"Shenzhen → JSRT","value":0.437},
      {"group":"Regions","shots":"1-shots","x":"0.5","series":"Shenzhen → JSRT","value":0.404},
      {"group":"Regions","shots":"1-shots","x":"1.0","series":"Shenzhen → JSRT","value":0.437},
      {"group":"Regions","shots":"1-shots","x":"0.05","series":"OpenIST → JSRT","value":0.306},
      {"group":"Regions","shots":"1-shots","x":"0.1","series":"OpenIST → JSRT","value":0.324},
      {"group":"Regions","shots":"1-shots","x":"0.25","series":"OpenIST → JSRT","value":0.334},
      {"group":"Regions","shots":"1-shots","x":"0.5","series":"OpenIST → JSRT","value":0.348},
      {"group":"Regions","shots":"1-shots","x":"1.0","series":"OpenIST → JSRT","value":0.286},
      {"group":"Regions","shots":"1-shots","x":"0.05","series":"JSRT Lungs from scratch","value":0.539},
      {"group":"Regions","shots":"1-shots","x":"0.1","series":"JSRT Lungs from scratch","value":0.521},
      {"group":"Regions","shots":"1-shots","x":"0.25","series":"JSRT Lungs from scratch","value":0.561},
      {"group":"Regions","shots":"1-shots","x":"0.5","series":"JSRT Lungs from scratch","value":0.565},
      {"group":"Regions","shots":"1-shots","x":"1.0","series":"JSRT Lungs from scratch","value":0.423},

      {"group":"Regions","shots":"5-shots","x":"0.05","series":"WeaSeL","value":0.740},
      {"group":"Regions","shots":"5-shots","x":"0.1","series":"WeaSeL","value":0.734},
      {"group":"Regions","shots":"5-shots","x":"0.25","series":"WeaSeL","value":0.779},
      {"group":"Regions","shots":"5-shots","x":"0.5","series":"WeaSeL","value":0.799},
      {"group":"Regions","shots":"5-shots","x":"1.0","series":"WeaSeL","value":0.803},
      {"group":"Regions","shots":"5-shots","x":"0.05","series":"Prototype","value":0.459},
      {"group":"Regions","shots":"5-shots","x":"0.1","series":"Prototype","value":0.513},
      {"group":"Regions","shots":"5-shots","x":"0.25","series":"Prototype","value":0.511},
      {"group":"Regions","shots":"5-shots","x":"0.5","series":"Prototype","value":0.507},
      {"group":"Regions","shots":"5-shots","x":"1.0","series":"Prototype","value":0.511},
      {"group":"Regions","shots":"5-shots","x":"0.05","series":"Montgomery → JSRT","value":0.676},
      {"group":"Regions","shots":"5-shots","x":"0.1","series":"Montgomery → JSRT","value":0.680},
      {"group":"Regions","shots":"5-shots","x":"0.25","series":"Montgomery → JSRT","value":0.716},
      {"group":"Regions","shots":"5-shots","x":"0.5","series":"Montgomery → JSRT","value":0.748},
      {"group":"Regions","shots":"5-shots","x":"1.0","series":"Montgomery → JSRT","value":0.746},
      {"group":"Regions","shots":"5-shots","x":"0.05","series":"Shenzhen → JSRT","value":0.626},
      {"group":"Regions","shots":"5-shots","x":"0.1","series":"Shenzhen → JSRT","value":0.662},
      {"group":"Regions","shots":"5-shots","x":"0.25","series":"Shenzhen → JSRT","value":0.692},
      {"group":"Regions","shots":"5-shots","x":"0.5","series":"Shenzhen → JSRT","value":0.732},
      {"group":"Regions","shots":"5-shots","x":"1.0","series":"Shenzhen → JSRT","value":0.750},
      {"group":"Regions","shots":"5-shots","x":"0.05","series":"OpenIST → JSRT","value":0.590},
      {"group":"Regions","shots":"5-shots","x":"0.1","series":"OpenIST → JSRT","value":0.608},
      {"group":"Regions","shots":"5-shots","x":"0.25","series":"OpenIST → JSRT","value":0.668},
      {"group":"Regions","shots":"5-shots","x":"0.5","series":"OpenIST → JSRT","value":0.692},
      {"group":"Regions","shots":"5-shots","x":"1.0","series":"OpenIST → JSRT","value":0.704},
      {"group":"Regions","shots":"5-shots","x":"0.05","series":"JSRT Lungs from scratch","value":0.664},
      {"group":"Regions","shots":"5-shots","x":"0.1","series":"JSRT Lungs from scratch","value":0.658},
      {"group":"Regions","shots":"5-shots","x":"0.25","series":"JSRT Lungs from scratch","value":0.702},
      {"group":"Regions","shots":"5-shots","x":"0.5","series":"JSRT Lungs from scratch","value":0.716},
      {"group":"Regions","shots":"5-shots","x":"1.0","series":"JSRT Lungs from scratch","value":0.704},

      {"group":"Regions","shots":"10-shots","x":"0.05","series":"WeaSeL","value":0.765},
      {"group":"Regions","shots":"10-shots","x":"0.1","series":"WeaSeL","value":0.775},
      {"group":"Regions","shots":"10-shots","x":"0.25","series":"WeaSeL","value":0.829},
      {"group":"Regions","shots":"10-shots","x":"0.5","series":"WeaSeL","value":0.837},
      {"group":"Regions","shots":"10-shots","x":"1.0","series":"WeaSeL","value":0.869},
      {"group":"Regions","shots":"10-shots","x":"0.05","series":"Prototype","value":0.521},
      {"group":"Regions","shots":"10-shots","x":"0.1","series":"Prototype","value":0.533},
      {"group":"Regions","shots":"10-shots","x":"0.25","series":"Prototype","value":0.513},
      {"group":"Regions","shots":"10-shots","x":"0.5","series":"Prototype","value":0.519},
      {"group":"Regions","shots":"10-shots","x":"1.0","series":"Prototype","value":0.515},
      {"group":"Regions","shots":"10-shots","x":"0.05","series":"Montgomery → JSRT","value":0.692},
      {"group":"Regions","shots":"10-shots","x":"0.1","series":"Montgomery → JSRT","value":0.718},
      {"group":"Regions","shots":"10-shots","x":"0.25","series":"Montgomery → JSRT","value":0.763},
      {"group":"Regions","shots":"10-shots","x":"0.5","series":"Montgomery → JSRT","value":0.783},
      {"group":"Regions","shots":"10-shots","x":"1.0","series":"Montgomery → JSRT","value":0.801},
      {"group":"Regions","shots":"10-shots","x":"0.05","series":"Shenzhen → JSRT","value":0.702},
      {"group":"Regions","shots":"10-shots","x":"0.1","series":"Shenzhen → JSRT","value":0.712},
      {"group":"Regions","shots":"10-shots","x":"0.25","series":"Shenzhen → JSRT","value":0.734},
      {"group":"Regions","shots":"10-shots","x":"0.5","series":"Shenzhen → JSRT","value":0.779},
      {"group":"Regions","shots":"10-shots","x":"1.0","series":"Shenzhen → JSRT","value":0.797},
      {"group":"Regions","shots":"10-shots","x":"0.05","series":"OpenIST → JSRT","value":0.644},
      {"group":"Regions","shots":"10-shots","x":"0.1","series":"OpenIST → JSRT","value":0.656},
      {"group":"Regions","shots":"10-shots","x":"0.25","series":"OpenIST → JSRT","value":0.702},
      {"group":"Regions","shots":"10-shots","x":"0.5","series":"OpenIST → JSRT","value":0.742},
      {"group":"Regions","shots":"10-shots","x":"1.0","series":"OpenIST → JSRT","value":0.777},
      {"group":"Regions","shots":"10-shots","x":"0.05","series":"JSRT Lungs from scratch","value":0.700},
      {"group":"Regions","shots":"10-shots","x":"0.1","series":"JSRT Lungs from scratch","value":0.724},
      {"group":"Regions","shots":"10-shots","x":"0.25","series":"JSRT Lungs from scratch","value":0.750},
      {"group":"Regions","shots":"10-shots","x":"0.5","series":"JSRT Lungs from scratch","value":0.771},
      {"group":"Regions","shots":"10-shots","x":"1.0","series":"JSRT Lungs from scratch","value":0.793},

      {"group":"Regions","shots":"20-shots","x":"0.05","series":"WeaSeL","value":0.805},
      {"group":"Regions","shots":"20-shots","x":"0.1","series":"WeaSeL","value":0.805},
      {"group":"Regions","shots":"20-shots","x":"0.25","series":"WeaSeL","value":0.823},
      {"group":"Regions","shots":"20-shots","x":"0.5","series":"WeaSeL","value":0.845},
      {"group":"Regions","shots":"20-shots","x":"1.0","series":"WeaSeL","value":0.865},
      {"group":"Regions","shots":"20-shots","x":"0.05","series":"Prototype","value":0.509},
      {"group":"Regions","shots":"20-shots","x":"0.1","series":"Prototype","value":0.529},
      {"group":"Regions","shots":"20-shots","x":"0.25","series":"Prototype","value":0.507},
      {"group":"Regions","shots":"20-shots","x":"0.5","series":"Prototype","value":0.511},
      {"group":"Regions","shots":"20-shots","x":"1.0","series":"Prototype","value":0.511},
      {"group":"Regions","shots":"20-shots","x":"0.05","series":"Montgomery → JSRT","value":0.736},
      {"group":"Regions","shots":"20-shots","x":"0.1","series":"Montgomery → JSRT","value":0.744},
      {"group":"Regions","shots":"20-shots","x":"0.25","series":"Montgomery → JSRT","value":0.765},
      {"group":"Regions","shots":"20-shots","x":"0.5","series":"Montgomery → JSRT","value":0.793},
      {"group":"Regions","shots":"20-shots","x":"1.0","series":"Montgomery → JSRT","value":0.819},
      {"group":"Regions","shots":"20-shots","x":"0.05","series":"Shenzhen → JSRT","value":0.736},
      {"group":"Regions","shots":"20-shots","x":"0.1","series":"Shenzhen → JSRT","value":0.740},
      {"group":"Regions","shots":"20-shots","x":"0.25","series":"Shenzhen → JSRT","value":0.761},
      {"group":"Regions","shots":"20-shots","x":"0.5","series":"Shenzhen → JSRT","value":0.787},
      {"group":"Regions","shots":"20-shots","x":"1.0","series":"Shenzhen → JSRT","value":0.821},
      {"group":"Regions","shots":"20-shots","x":"0.05","series":"OpenIST → JSRT","value":0.706},
      {"group":"Regions","shots":"20-shots","x":"0.1","series":"OpenIST → JSRT","value":0.712},
      {"group":"Regions","shots":"20-shots","x":"0.25","series":"OpenIST → JSRT","value":0.744},
      {"group":"Regions","shots":"20-shots","x":"0.5","series":"OpenIST → JSRT","value":0.773},
      {"group":"Regions","shots":"20-shots","x":"1.0","series":"OpenIST → JSRT","value":0.809},
      {"group":"Regions","shots":"20-shots","x":"0.05","series":"JSRT Lungs from scratch","value":0.757},
      {"group":"Regions","shots":"20-shots","x":"0.1","series":"JSRT Lungs from scratch","value":0.777},
      {"group":"Regions","shots":"20-shots","x":"0.25","series":"JSRT Lungs from scratch","value":0.775},
      {"group":"Regions","shots":"20-shots","x":"0.5","series":"JSRT Lungs from scratch","value":0.815},
      {"group":"Regions","shots":"20-shots","x":"1.0","series":"JSRT Lungs from scratch","value":0.815}
    ]
  },
  "vconcat": [
    {
      "spacing": 1.5,
      "hconcat": [
        {
          "title": {"text": "Points"},
          "data": {"name": "runs"},
          "transform": [{"filter": "datum.group == 'Points' || datum.group == 'all'"}],
          "facet": {"column": {"field": "shots", "type": "nominal", "sort": ["1-shots", "5-shots", "10-shots", "20-shots"], "header": {"title": null}}},
          "bounds": "flush",
          "spacing": 14.5,
          "spec": {
            "width": 129.5, "height": 166,
            "layer": [
              {"transform": [{"filter": "datum.group == 'all'"}], "mark": {"type": "rule", "strokeDash": [4, 1.6], "strokeWidth": 1.2}, "encoding": {"x": {"datum": "1", "type": "ordinal"}, "x2": {"datum": "20"}, "y": {"field": "value", "type": "quantitative"}, "color": {"field": "series", "type": "nominal"}}},
              {"transform": [{"filter": "datum.group != 'all'"}], "mark": {"type": "line", "strokeWidth": 1.2}, "encoding": {"x": {"field": "x", "type": "ordinal", "scale": {"type": "point", "domain": ["1", "5", "10", "20"], "padding": 0.15}, "axis": {"title": "n-points"}}, "y": {"field": "value", "type": "quantitative", "scale": {"domain": [0, 1], "nice": false}, "axis": {"title": null, "tickCount": 5, "labelOverlap": false, "labelExpr": "datum.value == 0 ? '0' : format(datum.value, '.1f')"}}, "color": {"field": "series", "type": "nominal"}}},
              {"transform": [{"filter": "datum.group != 'all'"}], "mark": {"type": "point", "filled": true, "size": 18, "opacity": 1}, "encoding": {"x": {"field": "x", "type": "ordinal"}, "y": {"field": "value", "type": "quantitative"}, "color": {"field": "series", "type": "nominal", "scale": {"domain": ["WeaSeL", "Prototype", "Montgomery → JSRT", "Shenzhen → JSRT", "OpenIST → JSRT", "JSRT Lungs from scratch"], "range": ["#EE5A2C", "#4B2C9B", "#96CD5A", "#5E9E48", "#2F6848", "#F0C52A"]}, "legend": {"title": "Legend:", "orient": "none", "legendX": 4, "legendY": 472, "direction": "horizontal", "columns": 6, "titleFont": "DejaVu Sans", "titleFontSize": 19, "titleFontWeight": "bold", "titleColor": "#000", "titlePadding": 16, "labelFontSize": 18, "labelColor": "#111", "labelLimit": 0, "symbolType": "circle", "symbolSize": 100, "symbolStrokeWidth": 0, "symbolOpacity": 1, "columnPadding": 26, "labelOffset": 5, "encode": {"symbols": {"update": {"fill": {"scale": "color", "field": "value"}, "opacity": {"value": 1}}}}}}}}
            ]
          }
        },
        {
          "title": {"text": "Grid", "dx": 3},
          "data": {"name": "runs"},
          "transform": [{"filter": "datum.group == 'Grid' || datum.group == 'all'"}],
          "facet": {"column": {"field": "shots", "type": "nominal", "sort": ["1-shots", "5-shots", "10-shots", "20-shots"], "header": {"title": null}}},
          "bounds": "flush",
          "spacing": 14.7,
          "spec": {
            "width": 130.5, "height": 166,
            "layer": [
              {"transform": [{"filter": "datum.group == 'all'"}], "mark": {"type": "rule", "strokeDash": [4, 1.6], "strokeWidth": 1.2}, "encoding": {"x": {"datum": "8", "type": "ordinal"}, "x2": {"datum": "20"}, "y": {"field": "value", "type": "quantitative"}, "color": {"field": "series", "type": "nominal"}}},
              {"transform": [{"filter": "datum.group != 'all'"}], "mark": {"type": "line", "strokeWidth": 1.2}, "encoding": {"x": {"field": "x", "type": "ordinal", "scale": {"type": "point", "domain": ["8", "12", "16", "20"], "padding": 0.15}, "axis": {"title": "spacing"}}, "y": {"field": "value", "type": "quantitative", "scale": {"domain": [0, 1], "nice": false}, "axis": {"title": null, "tickCount": 5, "labelOverlap": false, "labelExpr": "datum.value == 0 ? '0' : format(datum.value, '.1f')"}}, "color": {"field": "series", "type": "nominal"}}},
              {"transform": [{"filter": "datum.group != 'all'"}], "mark": {"type": "point", "filled": true, "size": 18, "opacity": 1}, "encoding": {"x": {"field": "x", "type": "ordinal"}, "y": {"field": "value", "type": "quantitative"}, "color": {"field": "series", "type": "nominal"}}}
            ]
          }
        }
      ]
    },
    {
      "spacing": 1.5,
      "hconcat": [
        {
          "title": {"text": "Contours", "dx": 2},
          "data": {"name": "runs"},
          "transform": [{"filter": "datum.group == 'Contours' || datum.group == 'all'"}],
          "facet": {"column": {"field": "shots", "type": "nominal", "sort": ["1-shots", "5-shots", "10-shots", "20-shots"], "header": {"title": null}}},
          "bounds": "flush",
          "spacing": 14.5,
          "spec": {
            "width": 129.5, "height": 166,
            "layer": [
              {"transform": [{"filter": "datum.group == 'all'"}], "mark": {"type": "rule", "strokeDash": [4, 1.6], "strokeWidth": 1.2}, "encoding": {"x": {"datum": "0.05", "type": "ordinal"}, "x2": {"datum": "1.0"}, "y": {"field": "value", "type": "quantitative"}, "color": {"field": "series", "type": "nominal"}}},
              {"transform": [{"filter": "datum.group != 'all'"}], "mark": {"type": "line", "strokeWidth": 1.2}, "encoding": {"x": {"field": "x", "type": "ordinal", "scale": {"type": "point", "domain": ["0.05", "0.1", "0.25", "0.5", "1.0"], "padding": 0.2}, "axis": {"title": "density"}}, "y": {"field": "value", "type": "quantitative", "scale": {"domain": [0, 1], "nice": false}, "axis": {"title": null, "tickCount": 5, "labelOverlap": false, "labelExpr": "datum.value == 0 ? '0' : format(datum.value, '.1f')"}}, "color": {"field": "series", "type": "nominal"}}},
              {"transform": [{"filter": "datum.group != 'all'"}], "mark": {"type": "point", "filled": true, "size": 18, "opacity": 1}, "encoding": {"x": {"field": "x", "type": "ordinal"}, "y": {"field": "value", "type": "quantitative"}, "color": {"field": "series", "type": "nominal"}}}
            ]
          }
        },
        {
          "title": {"text": "Regions"},
          "data": {"name": "runs"},
          "transform": [{"filter": "datum.group == 'Regions' || datum.group == 'all'"}],
          "facet": {"column": {"field": "shots", "type": "nominal", "sort": ["1-shots", "5-shots", "10-shots", "20-shots"], "header": {"title": null}}},
          "bounds": "flush",
          "spacing": 14.7,
          "spec": {
            "width": 130.5, "height": 166,
            "layer": [
              {"transform": [{"filter": "datum.group == 'all'"}], "mark": {"type": "rule", "strokeDash": [4, 1.6], "strokeWidth": 1.2}, "encoding": {"x": {"datum": "0.05", "type": "ordinal"}, "x2": {"datum": "1.0"}, "y": {"field": "value", "type": "quantitative"}, "color": {"field": "series", "type": "nominal"}}},
              {"transform": [{"filter": "datum.group != 'all'"}], "mark": {"type": "line", "strokeWidth": 1.2}, "encoding": {"x": {"field": "x", "type": "ordinal", "scale": {"type": "point", "domain": ["0.05", "0.1", "0.25", "0.5", "1.0"], "padding": 0.2}, "axis": {"title": "density"}}, "y": {"field": "value", "type": "quantitative", "scale": {"domain": [0, 1], "nice": false}, "axis": {"title": null, "tickCount": 5, "labelOverlap": false, "labelExpr": "datum.value == 0 ? '0' : format(datum.value, '.1f')"}}, "color": {"field": "series", "type": "nominal"}}},
              {"transform": [{"filter": "datum.group != 'all'"}], "mark": {"type": "point", "filled": true, "size": 18, "opacity": 1}, "encoding": {"x": {"field": "x", "type": "ordinal"}, "y": {"field": "value", "type": "quantitative"}, "color": {"field": "series", "type": "nominal"}}}
            ]
          }
        }
      ]
    }
  ],
  "spacing": 16
}
